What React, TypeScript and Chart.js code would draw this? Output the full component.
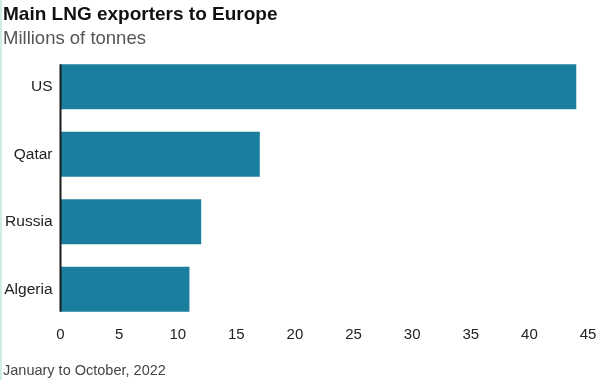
import React, { useEffect, useRef } from 'react';
import { Chart, registerables } from 'chart.js';

Chart.register(...registerables);

const categories: string[] = ['US', 'Qatar', 'Russia', 'Algeria'];
const values: number[] = [44, 17, 12, 11];
const xMin = 0;
const xMax = 45;
const xStep = 5;

const titleText = 'Main LNG exporters to Europe';
const subtitleText = 'Millions of tonnes';
const footerText = 'January to October, 2022';

const FONT = '"Liberation Sans", Arial, Helvetica, sans-serif';
const BAR_COLOR = '#1a7f9f';

const zeroLinePlugin = {
  id: 'zeroLine',
  afterDatasetsDraw(chart: any) {
    const meta = chart.getDatasetMeta(0);
    const xs = chart.scales.x;
    const x = xs.getPixelForValue(0);
    let top = Infinity;
    let bottom = -Infinity;
    meta.data.forEach((b: any) => {
      const p = b.getProps(['y', 'height'], true);
      top = Math.min(top, p.y - p.height / 2);
      bottom = Math.max(bottom, p.y + p.height / 2);
    });
    const ctx = chart.ctx;
    ctx.save();
    ctx.strokeStyle = '#1a1a1a';
    ctx.lineWidth = 2;
    ctx.beginPath();
    ctx.moveTo(x, top);
    ctx.lineTo(x, bottom);
    ctx.stroke();
    ctx.restore();
  },
};

export default function App() {
  const canvasRef = useRef<HTMLCanvasElement | null>(null);

  useEffect(() => {
    document.body.style.margin = '0';
    const canvas = canvasRef.current;
    if (!canvas) return;
    const chart = new Chart(canvas, {
      type: 'bar',
      data: {
        labels: categories,
        datasets: [
          {
            data: values,
            backgroundColor: BAR_COLOR,
            borderWidth: 0,
            categoryPercentage: 1,
            barPercentage: 0.665,
          },
        ],
      },
      plugins: [zeroLinePlugin],
      options: {
        indexAxis: 'y',
        animation: false,
        responsive: false,
        maintainAspectRatio: false,
        layout: { padding: { top: 53, right: 16, bottom: 35, left: 0 } },
        plugins: {
          legend: { display: false },
          tooltip: { enabled: false },
          title: { display: false },
        },
        scales: {
          x: {
            min: xMin,
            max: xMax,
            ticks: {
              stepSize: xStep,
              color: '#222',
              font: { family: FONT, size: 15 },
              padding: 3,
            },
            grid: { display: false, drawTicks: false },
            border: { display: false },
            afterFit: (axis: any) => {
              axis.height = 22;
            },
          },
          y: {
            ticks: {
              color: '#222',
              font: { family: FONT, size: 15.5 },
              padding: 8,
            },
            grid: { display: false, drawTicks: false },
            border: { display: false },
            afterFit: (axis: any) => {
              axis.width = 60.5;
            },
          },
        },
      },
    });
    return () => chart.destroy();
  }, []);

  return (
    <div
      style={{
        position: 'relative',
        width: 604,
        height: 380,
        overflow: 'hidden',
        background: '#ffffff',
        fontFamily: FONT,
      }}
    >
      <canvas
        ref={canvasRef}
        width={604}
        height={380}
        style={{ position: 'absolute', left: 0, top: 0, width: 604, height: 380 }}
      />
      <div
        style={{
          position: 'absolute',
          left: 0,
          top: 0,
          width: 2,
          height: 380,
          background: '#cfeedd',
        }}
      />
      <div
        style={{
          position: 'absolute',
          left: 3,
          top: 4,
          fontSize: 19,
          lineHeight: '19px',
          fontWeight: 'bold',
          color: '#111',
          whiteSpace: 'nowrap',
        }}
      >
        {titleText}
      </div>
      <div
        style={{
          position: 'absolute',
          left: 3,
          top: 29,
          fontSize: 18.5,
          lineHeight: '18.5px',
          color: '#555',
          whiteSpace: 'nowrap',
        }}
      >
        {subtitleText}
      </div>
      <div
        style={{
          position: 'absolute',
          left: 3,
          top: 363,
          fontSize: 14.5,
          lineHeight: '14.5px',
          color: '#444',
          whiteSpace: 'nowrap',
        }}
      >
        {footerText}
      </div>
    </div>
  );
}
